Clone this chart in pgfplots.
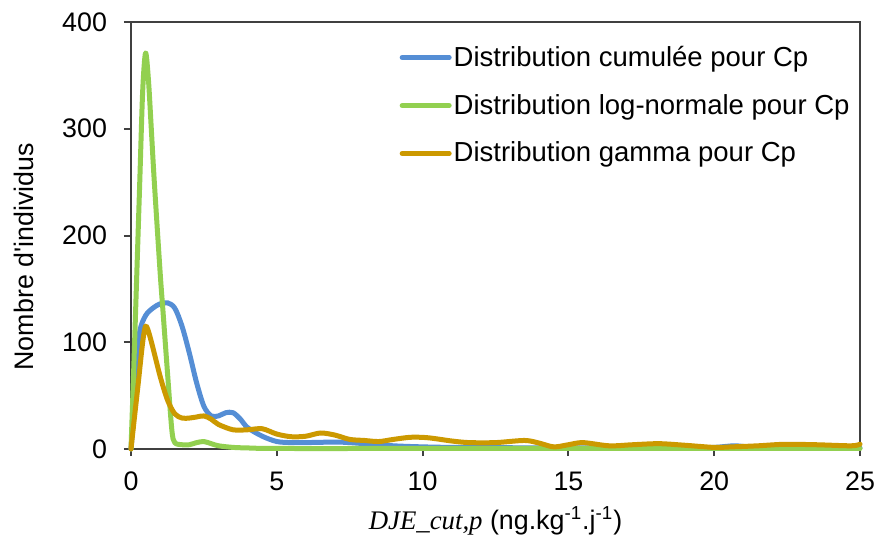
\documentclass[border=0pt]{standalone}
\usepackage{fontspec}
\setmainfont{Liberation Sans}
\newfontfamily\seriffont{Liberation Serif}
\usepackage{pgfplots}
\pgfplotsset{compat=1.18}
\definecolor{cumblue}{RGB}{85,142,213}
\definecolor{lngreen}{RGB}{146,208,80}
\definecolor{gamgold}{RGB}{204,153,0}
\definecolor{axgray}{RGB}{64,64,64}

\begin{document}
\begin{tikzpicture}[font=\fontsize{13.4}{16}\selectfont]
\path[use as bounding box] (-65.5pt,-46pt) rectangle (372.5pt,224.5pt);
\begin{axis}[
    at={(0,0)}, anchor=south west,
    scale only axis,
    width=364.5pt, height=213.5pt,
    xmin=0, xmax=25, ymin=0, ymax=400,
    xtick={0,5,...,25}, ytick={0,100,...,400},
    tick pos=left, tick align=outside,
    major tick length=3.5pt,
    axis line style={draw=axgray, line width=1pt},
    tick style={draw=axgray, line width=1pt},
    /pgf/number format/assume math mode=true,
    yticklabel style={xshift=-5pt},
    xticklabel style={yshift=-4.5pt},
    clip=false,
    xlabel={{\seriffont\itshape DJE\_cut,p} (ng.kg\textsuperscript{-1}.j\textsuperscript{-1})},
    ylabel={Nombre d\textquotesingle individus},
    xlabel style={at={(axis description cs:0.5,0)}, anchor=center, yshift=-36pt},
    ylabel style={at={(axis description cs:0,0.45)}, anchor=center, yshift=53.5pt},
    legend style={at={(axis description cs:0.368,0.945)}, anchor=north west,
        draw=none, fill=none, inner sep=0pt, row sep=12.5pt,
        font=\fontsize{13.75}{16}\selectfont,
        nodes={inner xsep=0pt, inner ysep=0pt}},
    legend cell align=left,
    legend image code/.code={\draw[#1] (0pt,0pt) -- (23.5pt,0pt);},
    every axis plot/.append style={line width=2.5pt, line cap=round, line join=round, smooth, tension=0.5},
]
\addplot[cumblue] coordinates {
    (0,0) (0.1,35) (0.2,75) (0.3,110) (0.5,125) (0.75,132) (1.0,136) (1.25,137)
    (1.5,132) (1.75,115) (2.0,90) (2.25,62) (2.5,40) (2.75,31) (3.0,31)
    (3.25,34) (3.5,34) (3.75,28) (4.0,20) (4.5,12) (5.0,7) (5.5,6) (6,6)
    (7,6.5) (7.5,6) (8,5) (9,3) (10,2) (11,1.5) (12,1.5) (13,1.2) (14,1)
    (15,1) (16,1) (17,1) (18,1) (19,1) (20,1.5) (20.7,3) (21.3,1.5) (22,1)
    (23,1) (24,1) (25,1)
};
\addlegendentry{\hspace{1pt}Distribution cumulée pour Cp}
\addplot[lngreen] coordinates {
    (0,0) (0.1,80) (0.2,165) (0.3,250) (0.4,335) (0.5,371) (0.6,345)
    (0.7,298) (0.8,250) (1.0,165) (1.1,128) (1.25,72)
    (1.4,18) (1.5,6) (1.75,4) (2.0,4) (2.25,6) (2.5,7) (2.75,5) (3.0,3)
    (3.5,1.5) (4.0,1) (5,0.5) (10,0.5) (15,0.5) (20,0.5) (25,0.5)
};
\addlegendentry{\hspace{1pt}Distribution log-normale pour Cp}
\addplot[gamgold] coordinates {
    (0,0) (0.1,25) (0.25,62) (0.4,100) (0.5,115) (0.6,110) (0.75,95)
    (1.0,68) (1.25,46) (1.5,33) (1.75,29) (2.0,29) (2.25,30) (2.5,31)
    (2.75,28) (3.0,23) (3.5,18) (4.0,18) (4.5,19) (5.0,14) (5.5,11.5)
    (6.0,12) (6.5,15) (7.0,13) (7.5,9) (8.0,8) (8.5,7) (9.0,9) (9.6,11)
    (10.2,10.5) (11.0,7.5) (11.6,6) (12.5,6) (13.5,8) (14.0,5.5) (14.5,2)
    (15.0,4) (15.5,6) (16.4,3) (17.2,4) (18.1,5) (19,3.5) (20,1.5)
    (20.6,2) (21.5,3) (22.4,4.4) (23.5,4) (24.7,3) (25,4.5)
};
\addlegendentry{\hspace{1pt}Distribution gamma pour Cp}
\end{axis}
\end{tikzpicture}
\end{document}
